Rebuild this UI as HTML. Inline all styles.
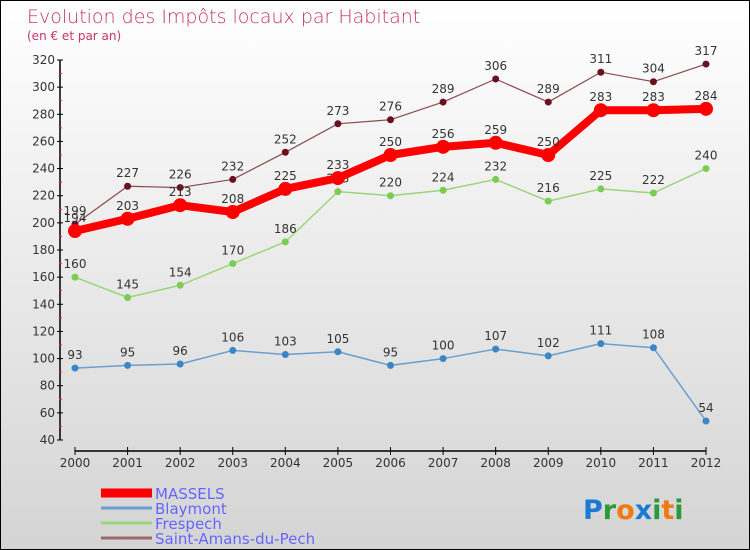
<!DOCTYPE html>
<html><head><meta charset="utf-8"><style>
html,body{margin:0;padding:0}
body{width:750px;height:550px;overflow:hidden;font-family:"DejaVu Sans","Liberation Sans",sans-serif}
#wrap{position:relative;width:748px;height:548px;border:1px solid #000;background:linear-gradient(#fff,#d4d4d4)}
</style></head><body>
<div id="wrap">
<svg id="chart" width="748" height="548" style="position:absolute;left:0;top:0">
<text x="26" y="22" font-size="19" fill="#c8336a" font-family="DejaVu Sans, sans-serif" font-weight="200" style="font-weight:200">Evolution des Impôts locaux par Habitant</text>
<text x="26" y="39" font-size="12" fill="#c8336a">(en € et par an)</text>
<g id="axes"></g><g id="series"></g><g id="legend"></g>
<text x="582" y="518" font-size="27" font-weight="bold"><tspan fill="#1a7ad4">P</tspan><tspan fill="#2a9a3a">r</tspan><tspan fill="#f07a10">o</tspan><tspan fill="#1a7ad4">x</tspan><tspan fill="#2a9a3a">i</tspan><tspan fill="#f07a10">t</tspan><tspan fill="#2a9a3a">i</tspan></text>
</svg>
</div>
<script>
const years=[2000,2001,2002,2003,2004,2005,2006,2007,2008,2009,2010,2011,2012];
const yTicks=[40,60,80,100,120,140,160,180,200,220,240,260,280,300,320];
const massels=[194,203,213,208,225,233,250,256,259,250,283,283,284];
const blaymont=[93,95,96,106,103,105,95,100,107,102,111,108,54];
const frespech=[160,145,154,170,186,223,220,224,232,216,225,222,240];
const saintAmans=[199,227,226,232,252,273,276,289,306,289,311,304,317];
const NS="http://www.w3.org/2000/svg";
function X(i){return 74+i*(631/12);}
function Y(v){return 59+(320-v)*380/280;}
function mk(tag,attrs,parent){const e=document.createElementNS(NS,tag);for(const k in attrs)e.setAttribute(k,attrs[k]);parent.appendChild(e);return e;}
const ax=document.getElementById('axes');
let l=mk('line',{x1:59,y1:Y(320),x2:59,y2:Y(40),stroke:'#000','stroke-width':1.5},ax);

yTicks.forEach((v,i)=>{mk('line',{x1:56,x2:62,y1:Y(v),y2:Y(v),stroke:'#000'},ax);
 if(i<yTicks.length-1)mk('line',{x1:58,x2:61,y1:Y(v+10),y2:Y(v+10),stroke:'#e22'},ax);
 const t=mk('text',{x:54,y:Y(v)+4,'font-size':12,fill:'#333','text-anchor':'end'},ax);t.textContent=v;
 });
l=mk('line',{x1:X(0),y1:450,x2:X(12),y2:450,stroke:'#000','stroke-width':1.5},ax);

years.forEach((y,i)=>{mk('line',{x1:X(i),x2:X(i),y1:446,y2:454,stroke:'#000'},ax);
 const t=mk('text',{x:X(i),y:466,'font-size':12,fill:'#333','text-anchor':'middle'},ax);t.textContent=y;
 });
const sg=document.getElementById('series');
function draw(vals,color,w,r,name,dot){
 const g=mk('g',{},sg);
 const p=mk('polyline',{points:vals.map((v,i)=>X(i)+','+Y(v)).join(' '),fill:'none',stroke:color,'stroke-width':w,'stroke-linejoin':'round'},g);
 
 vals.forEach((v,i)=>{const c=mk('circle',{cx:X(i),cy:Y(v),r:r,fill:dot},g);
  
  const t=mk('text',{x:X(i),y:Y(v)-9,'font-size':12,fill:'#333','text-anchor':'middle'},g);t.textContent=v;
  });
}
draw(blaymont,'#6a9fcf',1.5,3.5,'blaymont','#3a86c6');
draw(frespech,'#9ad57a',1.5,3.5,'frespech','#7ccc54');
draw(saintAmans,'#8a4a4a',1.2,3.5,'saint-amans','#6a1020');
draw(massels,'#f00',8,7,'massels','#f00');
const lg=document.getElementById('legend');
const names=['MASSELS','Blaymont','Frespech','Saint-Amans-du-Pech'];
const cols=['#f00','#6a9fcf','#9ad57a','#9a6a6a'];
names.forEach((n,i)=>{const y=492+i*15;
 const g=mk('g',{},lg);
 mk('line',{x1:100,x2:151,y1:y,y2:y,stroke:cols[i],'stroke-width':i==0?9:3},g);
 const t=mk('text',{x:154,y:y+6,'font-size':15,fill:'#66f'},g);t.textContent=n;});
</script>
</body></html>
